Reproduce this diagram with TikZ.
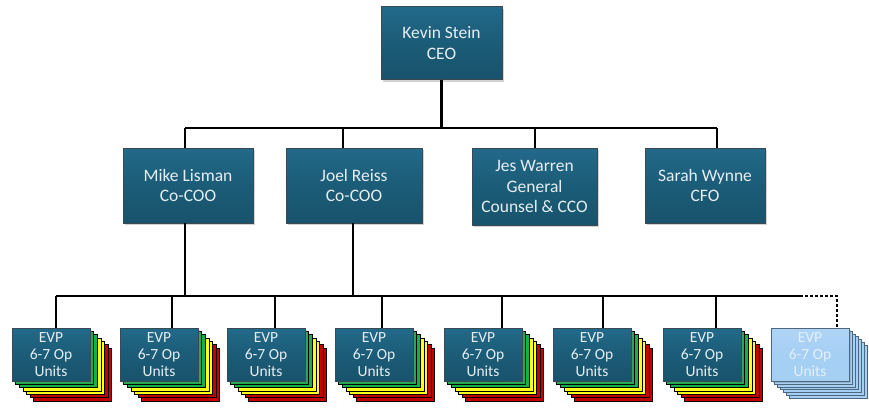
\documentclass[tikz,border=0pt]{standalone}
\usepackage{fontspec}
\setmainfont{Carlito}
\usetikzlibrary{shadows}
\definecolor{boxtop}{HTML}{23698A}
\definecolor{boxmid}{HTML}{1B5C77}
\definecolor{boxbot}{HTML}{18536C}
\definecolor{boxline}{HTML}{3A4A52}
\definecolor{boxtext}{HTML}{E6EEF2}
\definecolor{lgreen}{HTML}{14B04A}
\definecolor{lyellow}{HTML}{FFFF1A}
\definecolor{lred}{HTML}{C40000}
\definecolor{lblue}{HTML}{A6CFF4}
\definecolor{lbluetext}{HTML}{E4F0FB}
\definecolor{lblueline}{HTML}{4D6781}
\tikzset{
  orgbox/.style={draw=boxline, line width=0.8pt, top color=boxtop, bottom color=boxbot, middle color=boxmid,
    text=boxtext, align=center, inner sep=0pt, outer sep=0pt,
    drop shadow={shadow xshift=2pt, shadow yshift=-2pt, opacity=0.35},
    font=\fontsize{17.5}{20.5}\selectfont},
  evpbox/.style={orgbox, minimum width=78pt, minimum height=53pt, anchor=north west,
    font=\fontsize{15.5}{17}\selectfont, drop shadow={shadow xshift=1pt, shadow yshift=-1pt, opacity=0.3}},
  ghostbox/.style={evpbox, top color=lblue!90!white, bottom color=lblue, middle color=lblue,
    draw=lblueline, text=lbluetext},
  layer/.style={draw=black, line width=0.6pt},
  conn/.style={line width=2.6pt, draw=black},
  dotconn/.style={line width=2.6pt, draw=black, dash pattern=on 2.6pt off 2.4pt},
}
\newcommand\colorstack[2]{% left, top
  \foreach \i/\c in {6/lred,5/lred,4/lyellow,3/lyellow,2/lgreen,1/lgreen}{
    \draw[layer, fill=\c] ({#1+3.6*\i},{#2+3.3*\i}) rectangle ++(78,53);
  }}
\newcommand\bluestack[2]{%
  \foreach \i in {6,5,4,3,2,1}{
    \draw[draw=lblueline, line width=0.6pt, fill=lblue] ({#1+3.1*\i},{#2+2.9*\i}) rectangle ++(78,53);
  }}
\begin{document}
\begin{tikzpicture}[x=1pt,y=-1pt]
\useasboundingbox (0,0) rectangle (869,408);
% top level
\node[orgbox, minimum width=121pt, minimum height=73pt] (ceo) at (441.5,43) {Kevin Stein\\CEO};
\node[orgbox, minimum width=130pt, minimum height=75pt] (mike) at (188,185.5) {Mike Lisman\\Co-COO};
\node[orgbox, minimum width=136pt, minimum height=75pt] (joel) at (354,185.5) {Joel Reiss\\Co-COO};
\node[orgbox, minimum width=125pt, minimum height=77pt] (jes) at (534.5,186.5) {Jes Warren\\General\\Counsel \& CCO};
\node[orgbox, minimum width=120pt, minimum height=75pt] (sarah) at (705,185.5) {Sarah Wynne\\CFO};
% upper bus
\coordinate (busL) at (185,128);
\coordinate (busJ) at (343,128);
\coordinate (busW) at (535,128);
\coordinate (busR) at (717,128);
\draw[conn] (ceo.south) -- (ceo.south |- busL);
\draw[conn] (busL) -- (busR);
\draw[conn] (busL) -- (busL |- mike.north);
\draw[conn] (busJ) -- (busJ |- joel.north);
\draw[conn] (busW) -- (busW |- jes.north);
\draw[conn] (busR) -- (busR |- sarah.north);
% EVP stacks
\foreach \n/\L in {1/12,2/120,3/227,4/335,5/444,6/553,7/663}{
  \colorstack{\L}{328}
  \node[evpbox] (evp\n) at (\L,328) {EVP\\6-7 Op\\Units};
}
\bluestack{771}{328}
\node[ghostbox] (evp8) at (771,328) {EVP\\6-7 Op\\Units};
% lower bus
\coordinate (lm) at (185,296);
\coordinate (lj) at (353,296);
\draw[conn] (lm |- mike.south) -- (lm);
\draw[conn] (lj |- joel.south) -- (lj);
\coordinate (lb1) at (56,296);
\coordinate (lb2) at (172,296);
\coordinate (lb3) at (275,296);
\coordinate (lb4) at (382,296);
\coordinate (lb5) at (502,296);
\coordinate (lb6) at (603,296);
\coordinate (lb7) at (716,296);
\coordinate (lend) at (800,296);
\coordinate (lb8) at (837,296);
\draw[conn] (lb1) -- (lend);
\foreach \n in {1,...,7}{
  \draw[conn] (lb\n) -- (lb\n |- evp\n.north);
}
\draw[dotconn] (lend) -- (lb8) -- (lb8 |- evp8.north);
\end{tikzpicture}
\end{document}
